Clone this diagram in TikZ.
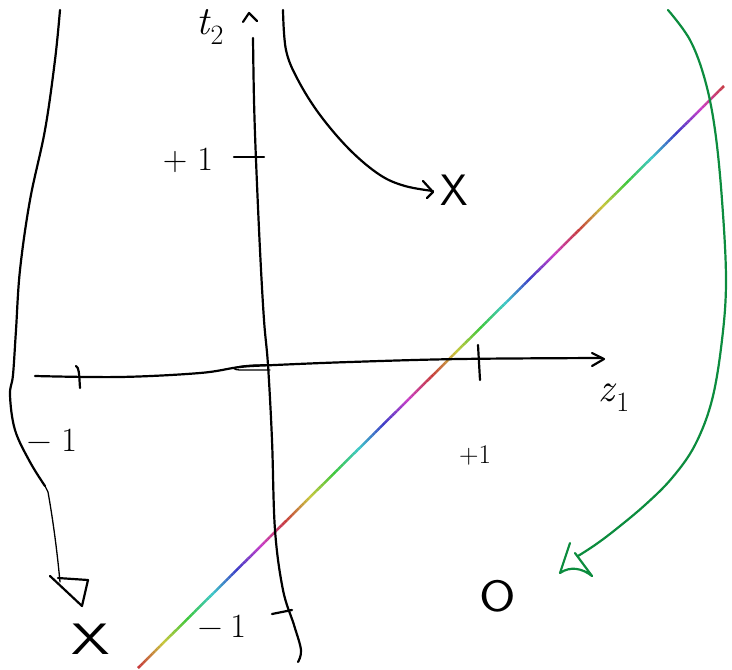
\documentclass[tikz,border=0pt]{standalone}
\usepackage{fontspec}
\usetikzlibrary{calc}
\definecolor{pengreen}{RGB}{12,140,62}
\begin{document}
\begin{tikzpicture}[x=1pt,y=-1pt,
  pen/.style={line width=2.2pt,line cap=round,line join=round},
  finepen/.style={line width=1.3pt,line cap=round,line join=round},
  greenpen/.style={pen,draw=pengreen},
  lbl/.style={inner sep=0pt,font=\fontsize{34}{34}\selectfont},
  axlbl/.style={inner sep=0pt,font=\fontsize{40}{40}\selectfont},
  smalllbl/.style={inner sep=0pt,font=\fontsize{27}{27}\selectfont},
  ptmark/.style={inner sep=0pt,font=\sffamily\fontsize{44}{44}\selectfont}
]
\useasboundingbox (0,0) rectangle (732,670);

% rainbow decision line
\coordinate (rbA) at (138,668);
\coordinate (rbB) at (724,86);
\foreach \i in {0,...,239}{
  \pgfmathsetmacro\h{mod(\i*4/240,1)}
  \pgfmathsetmacro\ta{\i/240}
  \pgfmathsetmacro\tb{(\i+1)/240}
  \definecolor{rbc}{hsb}{\h,0.7,0.78}
  \draw[rbc,line width=2.5pt] ($(rbA)!\ta!(rbB)$) -- ($(rbA)!\tb!(rbB)$);
}

% vertical axis t2
\draw[pen] plot[smooth,tension=0.6] coordinates {(253,38) (254,100) (256,160) (260,250) (264,320) (268,365) (272,440) (275,530) (283,590) (294,625) (301,650) (298,662)};
\draw[pen] (243,22) -- (249,13) -- (257,21);
\node[axlbl] (t2) at (210,27) {\textit{t}\textsubscript{2}};

% horizontal axis z1
\draw[pen] plot[smooth,tension=0.6] coordinates {(35,376) (120,377) (200,373) (240,367) (275,365) (350,362) (460,359) (602,358)};
\draw[finepen] (272,365) .. controls (240,364) and (225,369) .. (240,370) -- (270,370);
\draw[pen] (592,353) -- (604,359) -- (592,366);
\node[axlbl] (z1) at (614,398) {\textit{z}\textsubscript{1}};

% ticks
\draw[pen] (76,366) .. controls (79,368) and (79,372) .. (80,388);
\draw[pen] (478,345) -- (480,380);
\draw[pen] (234,157) -- (264,157);
\draw[pen] (272,614) -- (292,610);

% labels
\node[lbl] (pOneTop) at (188,160) {+\kern10pt1};
\node[lbl] (mOneLeft) at (52,440) {−\kern10pt1};
\node[lbl] (mOneBot) at (222,626) {−\kern8pt1};
\node[smalllbl] (pOneRight) at (475,455) {+1};

% data points
\node[ptmark] (xTop) at (454,190) {X};
\node[ptmark,xscale=1.4] (xBot) at (91,639) {X};
\node[ptmark,xscale=1.2] (oBot) at (498,596) {O};

% top arrow to upper X
\coordinate (topStart) at (283,10);
\coordinate (topEnd) at (433,191);
\draw[pen] plot[smooth,tension=0.6] coordinates {(topStart) (286,50) (298,80) (320,115) (350,150) (380,175) (405,186) (topEnd)};
\draw[pen] (423,181) -- (433,192) -- (427,198);

% left long arrow to lower X
\coordinate (leftStart) at (60,10);
\coordinate (leftMid) at (45,486);
\coordinate (leftEnd) at (60,582);
\draw[pen] plot[smooth,tension=0.6] coordinates {(leftStart) (55,60) (45,130) (30,200) (20,270) (16,330) (13,375) (10,395) (15,430) (30,462) (leftMid)};
\draw[finepen] (leftMid) -- (48,492) .. controls (53,520) and (57,550) .. (leftEnd);
\draw[pen] (50,576) -- (82,606) -- (88,580) -- (58,578);

% green arrow to O
\coordinate (gStart) at (668,10);
\coordinate (gEnd) at (578,556);
\draw[greenpen] plot[smooth,tension=0.6] coordinates {(gStart) (690,40) (705,80) (715,130) (722,200) (726,280) (722,340) (712,400) (695,445) (672,478) (645,505) (615,530) (595,545) (gEnd)};
\draw[greenpen] (570,543) -- (560,573) .. controls (570,566) and (582,568) .. (592,576) -- (575,553);
\end{tikzpicture}
\end{document}
